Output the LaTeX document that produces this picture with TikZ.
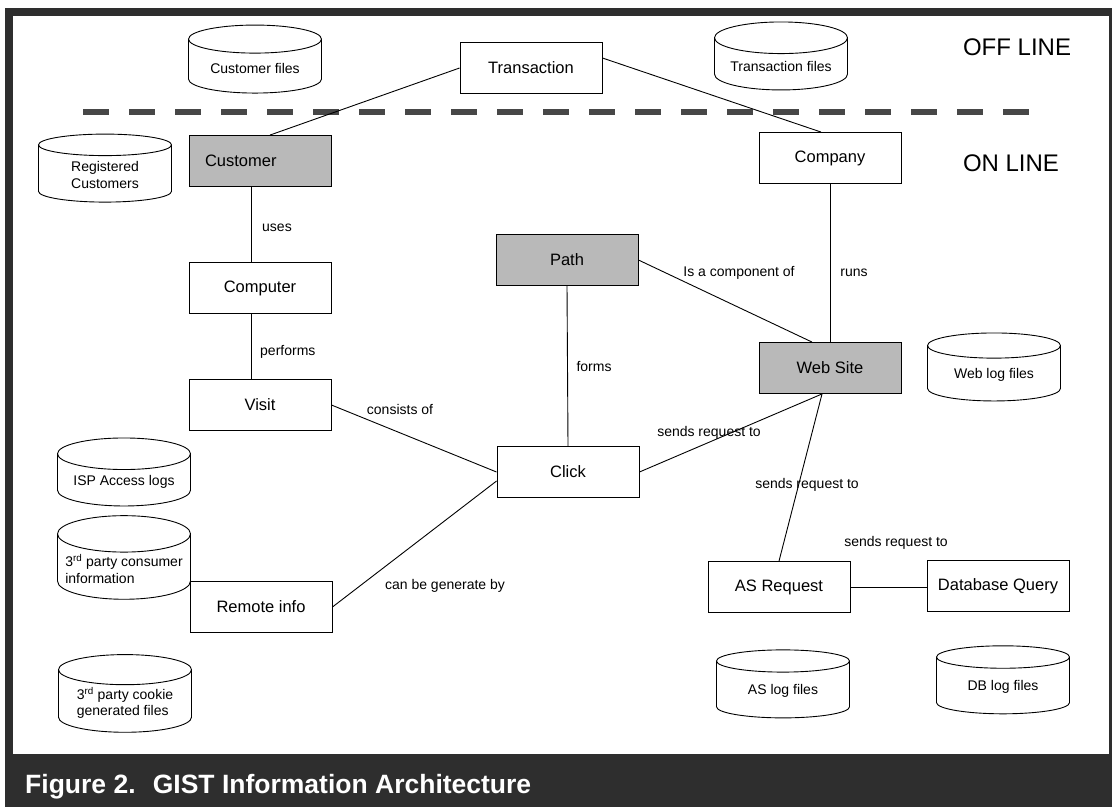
\documentclass[tikz,border=0pt]{standalone}
\usepackage{fontspec}
\setmainfont{Liberation Sans}
\usetikzlibrary{shapes.geometric}

\tikzset{
  entity/.style={draw, line width=0.9pt, fill=white, minimum width=142pt,
    minimum height=51pt, inner sep=0pt, font=\fontsize{16.5}{19}\selectfont},
  keyentity/.style={entity, fill=gray!55},
  store/.style={cylinder, shape border rotate=90, draw, line width=0.9pt,
    fill=white, aspect=0.3, minimum width=133pt, minimum height=68pt,
    inner sep=2pt, font=\fontsize{14}{16.5}\selectfont},
  rel/.style={font=\fontsize{14}{16}\selectfont, inner sep=0pt},
  zone/.style={font=\fontsize{24}{28}\selectfont, inner sep=0pt},
  link/.style={draw, line width=0.9pt}
}

\begin{document}
\begin{tikzpicture}[x=1pt, y=-1pt]
\useasboundingbox (0,0) rectangle (1115,807);

% Frame and caption band
\fill[black!82] (5,8) rectangle (1112,807);
\fill[white] (13,16) rectangle (1109,754);
\node[anchor=west, inner sep=0pt, text=white,
  font=\bfseries\fontsize{26.5}{30}\selectfont] (caption) at (25,787)
  {Figure 2.~ GIST Information Architecture};

% Off line / on line separator
\draw[line width=6pt, black!72, dash pattern=on 26pt off 20pt] (83,112) -- (1032,112);
\node[zone] (offline) at (1017,47) {OFF LINE};
\node[zone] (online) at (1011,163) {ON LINE};

% Data stores
\node[store] (cfiles) at (255,68) {Customer files};
\node[store] (tfiles) at (781,66) {Transaction files};
\node[store, align=center] (regcust) at (105,175) {Registered\\Customers};
\node[store] (weblog) at (994,375) {Web log files};
\node[store] (isplog) at (124,482) {ISP Access logs};
\node[store, align=left] (info3) at (124,569) {3\textsuperscript{rd} party consumer\\information};
\node[store, align=left] (cookie) at (125,703) {3\textsuperscript{rd} party cookie\\generated files};
\node[store] (aslog) at (783,691) {AS log files};
\node[store] (dblog) at (1003,687) {DB log files};

% Entities
\node[entity] (trans) at (531,68) {Transaction};
\node[keyentity, align=left, text width=110pt] (cust) at (260,161) {Customer};
\node[entity] (comp) at (830,158) {Company};
\node[entity] (cptr) at (260,288) {Computer};
\node[keyentity] (path) at (567,260) {Path};
\node[entity] (visit) at (260,405) {Visit};
\node[keyentity] (site) at (830,368) {Web Site};
\node[entity] (click) at (568,472) {Click};
\node[entity] (remote) at (261,607) {Remote info};
\node[entity] (asreq) at (779,587) {AS Request};
\node[entity] (dbq) at (998,586) {Database Query};

% Relations
\draw[link] (trans.west) -- ([xshift=10pt]cust.north);
\draw[link] ([yshift=10pt]trans.east) -- ([xshift=-9pt]comp.north);
\draw[link] ([xshift=-9pt]cust.south) -- ([xshift=-9pt]cptr.north);
\draw[link] ([xshift=-9pt]cptr.south) -- ([xshift=-9pt]visit.north);
\draw[link] (visit.east) -- (click.west);
\draw[link] (remote.east) -- ([yshift=-9pt]click.west);
\draw[link] (path.south) -- (click.north);
\draw[link] (path.east) -- ([xshift=-18pt]site.north);
\draw[link] (comp.south) -- (site.north);
\draw[link] (click.east) -- ([xshift=-8pt]site.south);
\draw[link] ([xshift=-8pt]site.south) -- (asreq.north);
\draw[link] (asreq.east) -- (asreq.east -| dbq.west);

% Relation labels
\node[rel, anchor=west] (luses) at (262,228) {uses};
\node[rel, anchor=west] (lperf) at (260,352) {performs};
\node[rel] (lcons) at (400,409) {consists of};
\node[rel] (lcomp) at (739,273) {Is a component of};
\node[rel] (lruns) at (854,273) {runs};
\node[rel] (lforms) at (594,366) {forms};
\node[rel] (lsend1) at (709,433) {sends request to};
\node[rel] (lsend2) at (807,485) {sends request to};
\node[rel] (lsend3) at (896,543) {sends request to};
\node[rel] (lgen) at (445,586) {can be generate by};

\end{tikzpicture}
\end{document}
